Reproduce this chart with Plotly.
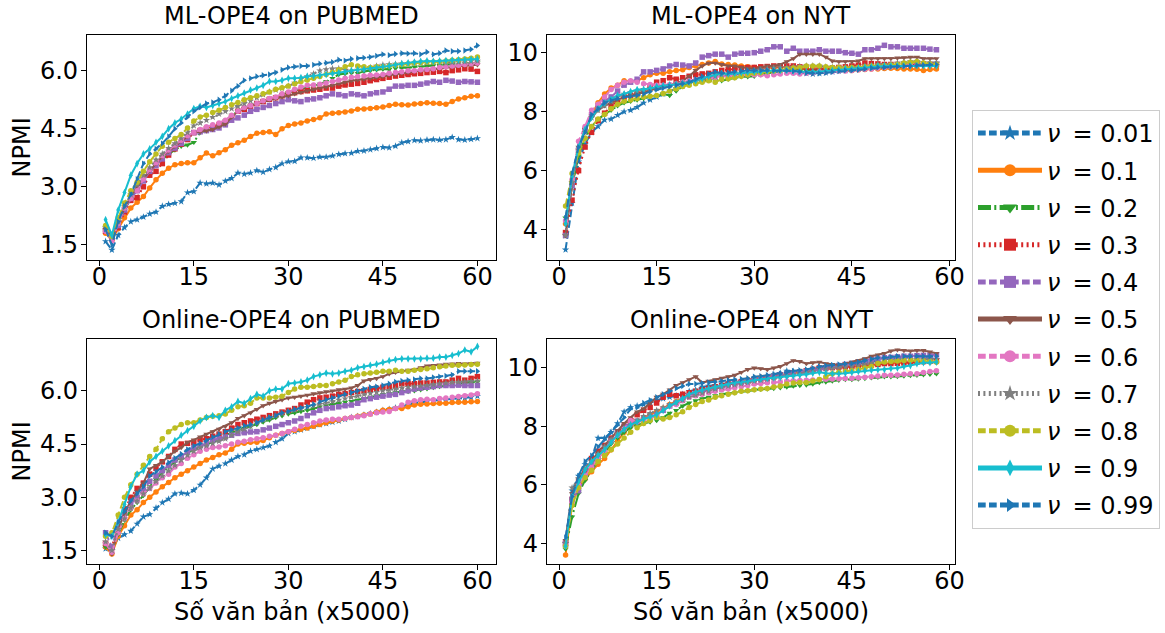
import plotly.graph_objects as go

# ---------------- data ----------------
nu_labels = ["0.01", "0.1", "0.2", "0.3", "0.4", "0.5", "0.6", "0.7", "0.8", "0.9", "0.99"]
x_pubmed = list(range(1, 61))
x_nyt = list(range(1, 59))
x_ticks = [0, 15, 30, 45, 60]
y_ticks_pubmed = [1.5, 3.0, 4.5, 6.0]
y_ticks_nyt = [4, 6, 8, 10]
panel_titles = ["ML-OPE4 on PUBMED", "ML-OPE4 on NYT", "Online-OPE4 on PUBMED", "Online-OPE4 on NYT"]

# ML-OPE4 on PUBMED
ml_pub_001 = [1.59, 1.37, 1.75, 1.95, 2.10, 2.15, 2.22, 2.30, 2.35, 2.50, 2.55, 2.58, 2.62, 2.85, 2.88, 3.10, 3.08, 3.10, 3.05, 3.15, 3.22, 3.36, 3.33, 3.36, 3.42, 3.38, 3.45, 3.50, 3.60, 3.65, 3.66, 3.75, 3.75, 3.74, 3.77, 3.77, 3.80, 3.84, 3.86, 3.87, 3.92, 3.93, 3.96, 3.99, 4.02, 4.01, 4.05, 4.14, 4.17, 4.20, 4.19, 4.21, 4.22, 4.21, 4.22, 4.28, 4.22, 4.21, 4.23, 4.25]
ml_pub_01 = [1.80, 1.62, 1.92, 2.20, 2.45, 2.60, 2.75, 2.97, 3.18, 3.35, 3.48, 3.57, 3.60, 3.62, 3.62, 3.75, 3.87, 3.80, 3.88, 3.96, 4.07, 4.14, 4.20, 4.30, 4.38, 4.40, 4.42, 4.35, 4.50, 4.58, 4.62, 4.65, 4.70, 4.74, 4.78, 4.88, 4.90, 4.91, 4.93, 4.96, 5.00, 5.01, 5.02, 5.04, 5.06, 5.10, 5.13, 5.12, 5.11, 5.14, 5.15, 5.17, 5.16, 5.15, 5.13, 5.20, 5.27, 5.30, 5.34, 5.35]
ml_pub_02 = [1.88, 1.65, 2.05, 2.40, 2.70, 2.95, 3.20, 3.40, 3.55, 3.72, 3.85, 3.95, 4.05, 4.08, 4.15, 4.40, 4.45, 4.50, 4.58, 4.70, 4.85, 4.95, 5.02, 5.08, 5.15, 5.22, 5.27, 5.32, 5.38, 5.44, 5.48, 5.52, 5.55, 5.60, 5.65, 5.72, 5.80, 5.90, 5.92, 5.94, 5.93, 5.98, 6.00, 6.02, 6.04, 6.03, 6.06, 6.08, 6.07, 6.10, 6.10, 6.12, 6.13, 6.14, 6.15, 6.15, 6.17, 6.18, 6.19, 6.20]
ml_pub_03 = [1.85, 1.68, 1.95, 2.35, 2.65, 2.72, 3.00, 3.30, 3.40, 3.60, 3.82, 3.98, 4.10, 4.22, 4.40, 4.45, 4.50, 4.55, 4.60, 4.65, 4.80, 4.95, 5.00, 5.08, 5.15, 5.20, 5.26, 5.30, 5.35, 5.40, 5.43, 5.46, 5.48, 5.50, 5.52, 5.55, 5.55, 5.60, 5.63, 5.65, 5.67, 5.70, 5.74, 5.77, 5.80, 5.83, 5.86, 5.88, 5.90, 5.92, 5.93, 5.95, 5.96, 5.98, 5.95, 6.00, 6.02, 6.05, 6.04, 5.98]
ml_pub_04 = [1.90, 1.70, 2.00, 2.40, 2.70, 2.90, 3.15, 3.40, 3.55, 3.72, 3.88, 4.00, 4.12, 4.25, 4.40, 4.42, 4.45, 4.48, 4.52, 4.60, 4.72, 4.78, 4.85, 4.95, 5.00, 5.05, 5.10, 5.15, 5.20, 5.25, 5.22, 5.20, 5.25, 5.27, 5.30, 5.35, 5.40, 5.38, 5.35, 5.40, 5.38, 5.35, 5.40, 5.43, 5.45, 5.52, 5.60, 5.60, 5.62, 5.62, 5.65, 5.68, 5.72, 5.70, 5.75, 5.73, 5.70, 5.72, 5.71, 5.70]
ml_pub_05 = [1.90, 1.70, 2.05, 2.45, 2.75, 3.00, 3.22, 3.42, 3.60, 3.78, 3.92, 4.05, 4.18, 4.30, 4.40, 4.42, 4.45, 4.48, 4.55, 4.62, 4.80, 4.95, 5.02, 5.10, 5.15, 5.20, 5.25, 5.28, 5.32, 5.35, 5.40, 5.44, 5.48, 5.52, 5.55, 5.58, 5.62, 5.66, 5.70, 5.74, 5.76, 5.78, 5.80, 5.83, 5.85, 5.88, 5.90, 5.93, 5.95, 5.98, 6.00, 6.02, 6.04, 6.05, 6.08, 6.10, 6.12, 6.13, 6.14, 6.15]
ml_pub_06 = [1.85, 1.60, 2.05, 2.45, 2.70, 2.90, 3.20, 3.45, 3.62, 3.80, 3.95, 4.08, 4.20, 4.32, 4.40, 4.48, 4.55, 4.60, 4.65, 4.72, 4.85, 4.95, 5.05, 5.10, 5.15, 5.22, 5.28, 5.32, 5.40, 5.45, 5.52, 5.58, 5.62, 5.63, 5.65, 5.68, 5.72, 5.76, 5.80, 5.83, 5.85, 5.86, 5.88, 5.89, 5.90, 5.93, 5.95, 5.97, 6.00, 6.00, 6.02, 6.03, 6.05, 6.08, 6.10, 6.12, 6.14, 6.16, 6.18, 6.20]
ml_pub_07 = [1.95, 1.75, 2.10, 2.50, 2.80, 3.05, 3.30, 3.50, 3.70, 3.85, 4.00, 4.12, 4.25, 4.40, 4.58, 4.65, 4.72, 4.80, 4.88, 4.95, 5.02, 5.08, 5.15, 5.22, 5.30, 5.38, 5.45, 5.50, 5.55, 5.60, 5.68, 5.78, 5.85, 5.92, 6.00, 6.03, 6.05, 6.05, 6.02, 6.00, 6.02, 6.05, 6.08, 6.12, 6.15, 6.16, 6.17, 6.18, 6.19, 6.20, 6.20, 6.21, 6.22, 6.20, 6.20, 6.21, 6.22, 6.23, 6.24, 6.25]
ml_pub_08 = [2.00, 1.72, 2.20, 2.58, 2.90, 3.12, 3.40, 3.65, 3.85, 4.05, 4.15, 4.25, 4.35, 4.52, 4.70, 4.80, 4.85, 4.92, 4.98, 5.05, 5.12, 5.18, 5.25, 5.30, 5.35, 5.40, 5.45, 5.52, 5.56, 5.60, 5.66, 5.72, 5.76, 5.80, 5.85, 5.90, 5.95, 6.02, 6.10, 6.15, 6.12, 6.10, 6.08, 6.10, 6.10, 6.12, 6.14, 6.16, 6.18, 6.20, 6.21, 6.22, 6.22, 6.23, 6.25, 6.27, 6.28, 6.30, 6.32, 6.35]
ml_pub_09 = [2.15, 1.75, 2.40, 2.85, 3.30, 3.60, 3.85, 3.98, 4.15, 4.30, 4.50, 4.65, 4.75, 4.88, 5.02, 5.08, 5.05, 5.10, 5.15, 5.20, 5.28, 5.35, 5.42, 5.50, 5.55, 5.62, 5.72, 5.72, 5.75, 5.80, 5.80, 5.82, 5.85, 5.86, 5.88, 5.90, 5.92, 5.95, 5.97, 6.00, 6.02, 6.03, 6.05, 6.07, 6.10, 6.12, 6.15, 6.18, 6.20, 6.22, 6.24, 6.25, 6.24, 6.25, 6.26, 6.27, 6.28, 6.28, 6.29, 6.30]
ml_pub_099 = [1.90, 1.50, 2.10, 2.50, 2.80, 3.20, 3.60, 3.85, 3.98, 4.12, 4.30, 4.50, 4.65, 4.80, 4.95, 5.05, 5.15, 5.18, 5.25, 5.35, 5.48, 5.60, 5.75, 5.80, 5.85, 5.88, 5.90, 5.95, 6.02, 6.08, 6.10, 6.12, 6.12, 6.15, 6.18, 6.20, 6.22, 6.28, 6.26, 6.30, 6.32, 6.33, 6.35, 6.38, 6.42, 6.40, 6.43, 6.45, 6.44, 6.45, 6.42, 6.48, 6.42, 6.45, 6.52, 6.50, 6.50, 6.52, 6.55, 6.65]

# ML-OPE4 on NYT
ml_nyt_001 = [3.32, 4.90, 6.30, 6.90, 7.30, 7.50, 7.72, 7.75, 7.88, 8.00, 8.05, 8.15, 8.30, 8.40, 8.50, 8.60, 8.70, 8.80, 8.88, 8.95, 9.05, 9.12, 9.15, 9.18, 9.20, 9.22, 9.25, 9.28, 9.30, 9.30, 9.32, 9.33, 9.35, 9.35, 9.35, 9.34, 9.33, 9.30, 9.28, 9.30, 9.32, 9.35, 9.38, 9.40, 9.42, 9.44, 9.46, 9.48, 9.50, 9.50, 9.52, 9.54, 9.55, 9.56, 9.58, 9.60, 9.62, 9.65]
ml_nyt_01 = [4.20, 5.50, 6.70, 7.40, 7.90, 8.30, 8.60, 8.80, 8.90, 9.05, 9.02, 9.05, 9.15, 9.25, 9.30, 9.30, 9.35, 9.40, 9.42, 9.50, 9.55, 9.60, 9.65, 9.70, 9.62, 9.60, 9.58, 9.55, 9.52, 9.50, 9.50, 9.48, 9.50, 9.52, 9.50, 9.48, 9.47, 9.45, 9.45, 9.45, 9.43, 9.42, 9.40, 9.40, 9.40, 9.42, 9.43, 9.45, 9.45, 9.46, 9.47, 9.46, 9.45, 9.45, 9.44, 9.40, 9.43, 9.45]
ml_nyt_02 = [4.40, 5.50, 6.50, 7.10, 7.50, 7.75, 7.90, 8.05, 8.20, 8.30, 8.35, 8.40, 8.45, 8.50, 8.55, 8.60, 8.55, 8.70, 8.85, 8.95, 9.00, 9.05, 9.08, 9.05, 9.05, 9.10, 9.15, 9.18, 9.18, 9.20, 9.25, 9.30, 9.35, 9.38, 9.40, 9.40, 9.42, 9.40, 9.40, 9.40, 9.42, 9.43, 9.44, 9.45, 9.45, 9.46, 9.48, 9.48, 9.50, 9.50, 9.52, 9.52, 9.54, 9.55, 9.55, 9.55, 9.56, 9.55]
ml_nyt_03 = [3.90, 5.00, 6.00, 6.80, 7.30, 7.70, 7.95, 8.20, 8.35, 8.50, 8.55, 8.60, 8.70, 8.85, 9.00, 9.05, 9.15, 9.10, 9.15, 9.20, 9.25, 9.28, 9.30, 9.35, 9.40, 9.42, 9.45, 9.48, 9.50, 9.50, 9.52, 9.53, 9.55, 9.55, 9.55, 9.55, 9.52, 9.50, 9.48, 9.45, 9.45, 9.48, 9.50, 9.52, 9.55, 9.58, 9.65, 9.63, 9.62, 9.60, 9.60, 9.60, 9.58, 9.60, 9.60, 9.62, 9.60, 9.60]
ml_nyt_04 = [3.80, 5.50, 6.70, 7.40, 7.90, 8.20, 8.35, 8.50, 8.70, 8.90, 9.00, 9.10, 9.35, 9.35, 9.40, 9.45, 9.55, 9.60, 9.58, 9.55, 9.65, 9.85, 9.90, 9.95, 9.95, 9.85, 9.95, 9.98, 9.98, 10.00, 10.05, 10.10, 10.20, 10.20, 10.05, 10.15, 10.05, 10.05, 10.05, 10.10, 10.05, 10.05, 10.05, 10.00, 9.98, 9.95, 10.10, 10.10, 10.15, 10.25, 10.20, 10.20, 10.15, 10.15, 10.15, 10.15, 10.12, 10.10]
ml_nyt_05 = [3.80, 5.60, 6.80, 7.40, 7.80, 8.05, 8.20, 8.30, 8.40, 8.50, 8.55, 8.60, 8.65, 8.72, 8.80, 8.85, 8.90, 8.95, 9.05, 9.20, 9.40, 9.55, 9.65, 9.65, 9.60, 9.55, 9.55, 9.50, 9.48, 9.45, 9.50, 9.55, 9.55, 9.60, 9.70, 9.80, 9.95, 9.95, 9.95, 9.95, 9.85, 9.72, 9.70, 9.70, 9.70, 9.72, 9.80, 9.80, 9.80, 9.80, 9.80, 9.82, 9.83, 9.85, 9.85, 9.80, 9.80, 9.80]
ml_nyt_06 = [4.30, 5.70, 7.00, 7.50, 8.05, 8.25, 8.50, 8.75, 8.90, 9.00, 9.05, 9.00, 8.95, 8.92, 8.90, 8.90, 8.92, 8.95, 9.00, 9.05, 9.08, 9.10, 9.12, 9.15, 9.20, 9.20, 9.22, 9.22, 9.25, 9.25, 9.25, 9.22, 9.25, 9.28, 9.30, 9.30, 9.28, 9.30, 9.32, 9.35, 9.35, 9.36, 9.38, 9.38, 9.40, 9.42, 9.44, 9.45, 9.48, 9.50, 9.52, 9.54, 9.56, 9.58, 9.58, 9.60, 9.60, 9.60]
ml_nyt_07 = [3.80, 5.60, 6.70, 7.30, 7.80, 8.05, 8.20, 8.35, 8.50, 8.60, 8.65, 8.70, 8.75, 8.78, 8.80, 8.85, 8.90, 8.95, 8.98, 9.00, 9.05, 9.10, 9.15, 9.20, 9.25, 9.28, 9.30, 9.35, 9.38, 9.40, 9.42, 9.45, 9.48, 9.50, 9.50, 9.52, 9.54, 9.55, 9.55, 9.55, 9.52, 9.50, 9.50, 9.50, 9.50, 9.52, 9.55, 9.58, 9.60, 9.60, 9.62, 9.65, 9.68, 9.70, 9.70, 9.68, 9.66, 9.65]
ml_nyt_08 = [4.80, 5.90, 6.60, 7.10, 7.50, 7.75, 7.90, 8.10, 8.25, 8.35, 8.40, 8.45, 8.50, 8.52, 8.55, 8.62, 8.70, 8.78, 8.85, 8.90, 8.95, 9.00, 9.05, 9.00, 9.10, 9.12, 9.15, 9.20, 9.25, 9.30, 9.32, 9.35, 9.38, 9.40, 9.45, 9.48, 9.50, 9.55, 9.55, 9.55, 9.52, 9.50, 9.50, 9.48, 9.50, 9.50, 9.52, 9.55, 9.55, 9.56, 9.58, 9.60, 9.65, 9.68, 9.70, 9.65, 9.62, 9.60]
ml_nyt_09 = [4.20, 5.80, 6.80, 7.40, 7.80, 8.10, 8.30, 8.42, 8.55, 8.60, 8.68, 8.75, 8.75, 8.80, 8.85, 8.88, 8.90, 8.92, 8.95, 9.00, 9.05, 9.12, 9.20, 9.25, 9.30, 9.28, 9.30, 9.32, 9.34, 9.35, 9.36, 9.38, 9.40, 9.40, 9.40, 9.38, 9.36, 9.35, 9.35, 9.35, 9.38, 9.40, 9.42, 9.45, 9.45, 9.48, 9.50, 9.52, 9.55, 9.55, 9.55, 9.56, 9.55, 9.55, 9.56, 9.55, 9.55, 9.55]
ml_nyt_099 = [4.40, 5.90, 6.80, 7.30, 7.90, 8.10, 8.30, 8.38, 8.45, 8.50, 8.52, 8.55, 8.60, 8.68, 8.75, 8.80, 8.85, 8.90, 8.95, 9.00, 9.10, 9.20, 9.28, 9.35, 9.30, 9.32, 9.35, 9.38, 9.40, 9.40, 9.40, 9.40, 9.40, 9.40, 9.40, 9.38, 9.35, 9.32, 9.30, 9.30, 9.32, 9.35, 9.38, 9.40, 9.40, 9.42, 9.45, 9.48, 9.50, 9.50, 9.52, 9.53, 9.55, 9.55, 9.57, 9.58, 9.60, 9.60]

# Online-OPE4 on PUBMED
on_pub_001 = [1.55, 1.50, 1.85, 1.95, 2.05, 2.25, 2.45, 2.52, 2.70, 2.85, 2.95, 3.10, 3.12, 3.10, 3.20, 3.35, 3.55, 3.80, 3.88, 3.95, 4.05, 4.15, 4.20, 4.30, 4.35, 4.40, 4.45, 4.55, 4.65, 4.80, 4.85, 4.90, 4.95, 5.00, 5.05, 5.08, 5.12, 5.15, 5.20, 5.25, 5.28, 5.32, 5.36, 5.40, 5.45, 5.48, 5.52, 5.55, 5.60, 5.65, 5.68, 5.70, 5.72, 5.74, 5.75, 5.76, 5.78, 5.80, 5.82, 5.85]
on_pub_01 = [1.60, 1.40, 1.90, 2.20, 2.50, 2.65, 2.85, 3.00, 3.15, 3.30, 3.42, 3.55, 3.65, 3.75, 3.85, 3.95, 4.05, 4.12, 4.20, 4.25, 4.35, 4.50, 4.52, 4.55, 4.55, 4.60, 4.68, 4.75, 4.80, 4.85, 4.88, 4.92, 4.95, 5.00, 5.05, 5.10, 5.15, 5.18, 5.22, 5.25, 5.28, 5.32, 5.35, 5.40, 5.45, 5.47, 5.50, 5.50, 5.55, 5.60, 5.62, 5.63, 5.64, 5.65, 5.65, 5.67, 5.68, 5.68, 5.69, 5.70]
on_pub_02 = [1.60, 1.55, 1.95, 2.35, 2.65, 2.85, 3.05, 3.30, 3.50, 3.70, 3.85, 4.00, 4.15, 4.25, 4.35, 4.42, 4.48, 4.55, 4.62, 4.75, 4.82, 4.88, 4.95, 5.00, 5.05, 5.12, 5.18, 5.25, 5.30, 5.35, 5.38, 5.42, 5.45, 5.50, 5.55, 5.58, 5.62, 5.65, 5.68, 5.70, 5.74, 5.78, 5.82, 5.86, 5.90, 5.92, 5.95, 5.97, 5.98, 6.00, 6.03, 6.06, 6.09, 6.12, 6.15, 6.18, 6.20, 6.22, 6.24, 6.25]
on_pub_03 = [1.70, 1.60, 2.20, 2.65, 3.00, 3.25, 3.40, 3.65, 3.82, 4.00, 4.15, 4.35, 4.50, 4.52, 4.55, 4.62, 4.65, 4.72, 4.78, 4.85, 4.95, 5.05, 5.10, 5.15, 5.20, 5.25, 5.30, 5.35, 5.40, 5.45, 5.50, 5.60, 5.68, 5.75, 5.80, 5.82, 5.85, 5.90, 5.92, 5.95, 5.98, 6.00, 6.04, 6.07, 6.10, 6.12, 6.15, 6.20, 6.20, 6.20, 6.22, 6.22, 6.24, 6.25, 6.25, 6.30, 6.35, 6.30, 6.35, 6.40]
on_pub_04 = [2.00, 1.60, 2.20, 2.55, 2.80, 3.00, 3.20, 3.45, 3.60, 3.75, 3.90, 4.05, 4.15, 4.28, 4.40, 4.45, 4.50, 4.60, 4.65, 4.70, 4.75, 4.80, 4.82, 4.84, 4.85, 4.90, 4.95, 5.00, 5.05, 5.10, 5.15, 5.22, 5.30, 5.38, 5.45, 5.50, 5.52, 5.55, 5.58, 5.60, 5.65, 5.75, 5.78, 5.82, 5.85, 5.88, 5.90, 5.95, 6.00, 6.05, 6.08, 6.10, 6.12, 6.15, 6.15, 6.15, 6.16, 6.15, 6.15, 6.15]
on_pub_05 = [1.70, 1.40, 2.10, 2.55, 2.90, 3.15, 3.40, 3.80, 3.90, 4.00, 4.15, 4.30, 4.40, 4.55, 4.62, 4.70, 4.78, 4.85, 4.92, 5.00, 5.10, 5.22, 5.30, 5.38, 5.48, 5.58, 5.65, 5.70, 5.75, 5.80, 5.82, 5.85, 5.88, 5.92, 5.95, 5.98, 6.00, 6.03, 6.05, 6.08, 6.15, 6.28, 6.32, 6.35, 6.40, 6.48, 6.52, 6.55, 6.58, 6.60, 6.65, 6.70, 6.72, 6.73, 6.75, 6.76, 6.77, 6.76, 6.77, 6.78]
on_pub_06 = [1.70, 1.45, 2.00, 2.40, 2.70, 2.90, 3.10, 3.25, 3.40, 3.55, 3.65, 3.85, 3.95, 4.10, 4.20, 4.30, 4.35, 4.40, 4.42, 4.45, 4.50, 4.55, 4.58, 4.62, 4.65, 4.68, 4.72, 4.75, 4.80, 4.85, 4.92, 5.00, 5.05, 5.10, 5.15, 5.18, 5.20, 5.20, 5.22, 5.25, 5.27, 5.30, 5.35, 5.38, 5.40, 5.42, 5.50, 5.60, 5.68, 5.72, 5.75, 5.76, 5.75, 5.78, 5.80, 5.82, 5.84, 5.86, 5.88, 5.92]
on_pub_07 = [1.75, 1.50, 2.10, 2.40, 2.70, 2.90, 3.10, 3.25, 3.45, 3.60, 3.75, 3.90, 4.05, 4.18, 4.30, 4.40, 4.45, 4.52, 4.58, 4.65, 4.75, 4.85, 4.92, 5.00, 5.10, 5.18, 5.24, 5.30, 5.36, 5.42, 5.46, 5.50, 5.54, 5.58, 5.62, 5.66, 5.70, 5.74, 5.78, 5.82, 5.86, 5.90, 5.93, 5.96, 6.00, 6.02, 6.05, 6.08, 6.10, 6.12, 6.14, 6.16, 6.18, 6.20, 6.22, 6.24, 6.25, 6.26, 6.27, 6.28]
on_pub_08 = [1.90, 2.00, 2.50, 3.00, 3.35, 3.65, 3.90, 4.15, 4.35, 4.65, 4.85, 4.95, 5.05, 5.10, 5.10, 5.18, 5.25, 5.28, 5.30, 5.35, 5.45, 5.55, 5.58, 5.65, 5.80, 5.80, 5.80, 5.82, 5.85, 5.95, 6.05, 6.10, 6.10, 6.12, 6.15, 6.15, 6.20, 6.25, 6.30, 6.40, 6.45, 6.48, 6.50, 6.52, 6.55, 6.55, 6.58, 6.55, 6.55, 6.58, 6.60, 6.62, 6.65, 6.68, 6.70, 6.72, 6.72, 6.73, 6.74, 6.75]
on_pub_09 = [1.95, 1.90, 2.30, 2.80, 3.30, 3.65, 3.75, 4.00, 4.15, 4.30, 4.45, 4.60, 4.75, 4.88, 5.00, 5.15, 5.25, 5.30, 5.25, 5.45, 5.55, 5.70, 5.65, 5.78, 5.90, 5.85, 6.00, 6.05, 6.05, 6.20, 6.22, 6.25, 6.30, 6.40, 6.45, 6.50, 6.48, 6.50, 6.55, 6.58, 6.65, 6.68, 6.72, 6.75, 6.80, 6.85, 6.88, 6.90, 6.90, 6.90, 6.90, 6.92, 6.92, 6.95, 6.95, 7.00, 7.05, 7.15, 7.10, 7.25]
on_pub_099 = [2.00, 1.90, 2.30, 2.60, 2.90, 3.10, 3.30, 3.60, 3.72, 3.85, 3.98, 4.10, 4.22, 4.35, 4.45, 4.52, 4.60, 4.70, 4.78, 4.85, 4.90, 4.95, 5.02, 5.05, 5.10, 5.18, 5.25, 5.30, 5.38, 5.42, 5.48, 5.52, 5.55, 5.62, 5.70, 5.75, 5.80, 5.85, 5.90, 5.95, 6.00, 6.05, 6.10, 6.12, 6.15, 6.20, 6.25, 6.28, 6.30, 6.32, 6.35, 6.35, 6.38, 6.40, 6.42, 6.45, 6.55, 6.55, 6.55, 6.55]

# Online-OPE4 on NYT
on_nyt_001 = [4.00, 5.80, 6.30, 6.70, 6.90, 7.60, 7.60, 7.80, 8.10, 8.50, 8.65, 8.70, 8.75, 8.80, 8.90, 8.95, 9.00, 9.05, 9.10, 9.20, 9.25, 9.35, 9.38, 9.40, 9.45, 9.48, 9.50, 9.55, 9.60, 9.65, 9.68, 9.72, 9.78, 9.82, 9.90, 9.88, 9.85, 9.85, 9.92, 10.00, 10.02, 10.05, 10.08, 10.08, 10.10, 10.15, 10.18, 10.20, 10.25, 10.30, 10.32, 10.35, 10.38, 10.40, 10.40, 10.38, 10.35, 10.30]
on_nyt_01 = [3.60, 5.30, 5.90, 6.20, 6.45, 6.70, 6.90, 7.20, 7.50, 7.80, 8.00, 8.15, 8.30, 8.40, 8.50, 8.62, 8.75, 8.85, 8.98, 9.10, 9.15, 9.22, 9.28, 9.35, 9.40, 9.45, 9.50, 9.55, 9.60, 9.65, 9.68, 9.70, 9.72, 9.75, 9.80, 9.82, 9.85, 9.88, 9.90, 9.95, 9.97, 10.00, 10.02, 10.03, 10.05, 10.07, 10.08, 10.10, 10.12, 10.15, 10.16, 10.17, 10.18, 10.18, 10.20, 10.20, 10.20, 10.20]
on_nyt_02 = [3.80, 4.90, 5.70, 6.15, 6.50, 6.80, 7.10, 7.40, 7.60, 7.80, 7.95, 8.05, 8.10, 8.15, 8.20, 8.30, 8.45, 8.55, 8.70, 8.80, 8.88, 8.95, 9.00, 9.05, 9.10, 9.12, 9.15, 9.20, 9.22, 9.25, 9.27, 9.28, 9.30, 9.32, 9.35, 9.38, 9.40, 9.42, 9.45, 9.50, 9.52, 9.55, 9.58, 9.60, 9.60, 9.62, 9.64, 9.66, 9.68, 9.70, 9.70, 9.71, 9.72, 9.74, 9.75, 9.77, 9.78, 9.80]
on_nyt_03 = [4.00, 5.50, 6.10, 6.50, 6.90, 7.15, 7.35, 7.60, 7.80, 8.00, 8.20, 8.40, 8.55, 8.65, 8.80, 9.00, 9.10, 9.05, 9.10, 9.15, 9.20, 9.25, 9.30, 9.35, 9.40, 9.45, 9.48, 9.52, 9.55, 9.60, 9.62, 9.65, 9.70, 9.75, 9.80, 9.83, 9.86, 9.90, 9.95, 10.00, 10.01, 10.02, 10.03, 10.04, 10.05, 10.06, 10.08, 10.10, 10.12, 10.15, 10.15, 10.16, 10.17, 10.18, 10.20, 10.22, 10.23, 10.25]
on_nyt_04 = [4.00, 5.50, 5.80, 6.30, 6.70, 7.00, 7.30, 7.55, 7.80, 8.00, 8.10, 8.18, 8.25, 8.32, 8.40, 8.55, 8.70, 8.80, 8.92, 9.05, 9.12, 9.18, 9.24, 9.30, 9.35, 9.40, 9.45, 9.50, 9.55, 9.60, 9.63, 9.66, 9.70, 9.75, 9.80, 9.82, 9.85, 9.88, 9.92, 9.95, 10.00, 10.05, 10.08, 10.12, 10.15, 10.20, 10.25, 10.30, 10.32, 10.35, 10.36, 10.38, 10.40, 10.40, 10.42, 10.43, 10.44, 10.45]
on_nyt_05 = [4.10, 5.70, 6.20, 6.55, 6.80, 7.10, 7.35, 7.60, 7.85, 8.10, 8.30, 8.50, 8.60, 8.80, 9.00, 9.10, 9.25, 9.40, 9.50, 9.60, 9.70, 9.50, 9.55, 9.60, 9.65, 9.70, 9.75, 9.85, 9.95, 10.00, 9.98, 9.95, 10.00, 10.05, 10.15, 10.25, 10.22, 10.15, 10.18, 10.20, 10.15, 10.12, 10.10, 10.15, 10.20, 10.25, 10.32, 10.40, 10.45, 10.50, 10.58, 10.62, 10.60, 10.58, 10.60, 10.60, 10.55, 10.50]
on_nyt_06 = [3.90, 5.40, 6.00, 6.30, 6.60, 6.90, 7.15, 7.50, 7.70, 7.90, 8.20, 8.15, 8.20, 8.28, 8.35, 8.60, 8.70, 8.75, 8.88, 9.00, 9.05, 9.10, 9.15, 9.20, 9.25, 9.28, 9.32, 9.36, 9.40, 9.45, 9.47, 9.49, 9.50, 9.52, 9.55, 9.56, 9.57, 9.58, 9.59, 9.60, 9.61, 9.62, 9.63, 9.64, 9.65, 9.66, 9.68, 9.70, 9.72, 9.75, 9.75, 9.76, 9.78, 9.80, 9.80, 9.84, 9.88, 9.90]
on_nyt_07 = [4.00, 5.90, 6.20, 6.55, 6.80, 7.05, 7.30, 7.55, 7.75, 7.90, 8.05, 8.20, 8.35, 8.45, 8.55, 8.65, 8.75, 8.82, 8.90, 9.00, 9.07, 9.14, 9.20, 9.28, 9.35, 9.38, 9.42, 9.46, 9.50, 9.55, 9.58, 9.62, 9.66, 9.70, 9.75, 9.78, 9.82, 9.86, 9.90, 9.95, 9.97, 10.00, 10.02, 10.03, 10.05, 10.08, 10.12, 10.15, 10.20, 10.25, 10.26, 10.27, 10.28, 10.29, 10.30, 10.30, 10.30, 10.30]
on_nyt_08 = [3.90, 5.30, 5.90, 6.25, 6.50, 6.80, 7.00, 7.20, 7.40, 7.60, 7.80, 7.95, 8.10, 8.20, 8.30, 8.25, 8.30, 8.40, 8.50, 8.65, 8.75, 8.85, 8.90, 9.00, 9.05, 9.10, 9.15, 9.20, 9.22, 9.25, 9.28, 9.30, 9.35, 9.38, 9.45, 9.48, 9.50, 9.50, 9.55, 9.60, 9.70, 9.80, 9.85, 9.88, 9.90, 9.95, 10.00, 10.05, 10.15, 10.20, 10.22, 10.24, 10.25, 10.26, 10.25, 10.24, 10.22, 10.20]
on_nyt_09 = [3.90, 5.60, 6.10, 6.50, 6.80, 7.00, 7.20, 7.45, 7.70, 7.90, 8.05, 8.15, 8.25, 8.32, 8.40, 8.55, 8.70, 8.82, 8.95, 9.10, 9.18, 9.25, 9.30, 9.35, 9.40, 9.45, 9.50, 9.52, 9.55, 9.60, 9.62, 9.64, 9.66, 9.68, 9.70, 9.72, 9.75, 9.78, 9.82, 9.85, 9.82, 9.80, 9.80, 9.82, 9.85, 9.88, 9.90, 9.92, 9.94, 9.95, 9.98, 10.00, 10.05, 10.08, 10.15, 10.18, 10.18, 10.20]
on_nyt_099 = [4.20, 5.60, 6.30, 6.80, 7.00, 7.30, 7.55, 7.80, 8.05, 8.30, 8.60, 8.65, 8.80, 8.90, 9.00, 9.10, 9.20, 9.30, 9.38, 9.45, 9.45, 9.48, 9.50, 9.52, 9.55, 9.58, 9.60, 9.62, 9.65, 9.70, 9.72, 9.75, 9.78, 9.80, 9.85, 9.90, 9.92, 9.95, 10.00, 10.05, 10.08, 10.10, 10.12, 10.14, 10.15, 10.20, 10.25, 10.30, 10.35, 10.35, 10.38, 10.40, 10.40, 10.40, 10.40, 10.40, 10.40, 10.40]

panels = [
    (x_pubmed, [ml_pub_001, ml_pub_01, ml_pub_02, ml_pub_03, ml_pub_04, ml_pub_05, ml_pub_06, ml_pub_07, ml_pub_08, ml_pub_09, ml_pub_099]),
    (x_nyt, [ml_nyt_001, ml_nyt_01, ml_nyt_02, ml_nyt_03, ml_nyt_04, ml_nyt_05, ml_nyt_06, ml_nyt_07, ml_nyt_08, ml_nyt_09, ml_nyt_099]),
    (x_pubmed, [on_pub_001, on_pub_01, on_pub_02, on_pub_03, on_pub_04, on_pub_05, on_pub_06, on_pub_07, on_pub_08, on_pub_09, on_pub_099]),
    (x_nyt, [on_nyt_001, on_nyt_01, on_nyt_02, on_nyt_03, on_nyt_04, on_nyt_05, on_nyt_06, on_nyt_07, on_nyt_08, on_nyt_09, on_nyt_099]),
]

# ---------------- styles ----------------
colors = ["#1f77b4", "#ff7f0e", "#2ca02c", "#d62728", "#9467bd", "#8c564b",
          "#e377c2", "#7f7f7f", "#bcbd22", "#17becf", "#1f77b4"]
dashes = ["7.7px,3.3px", "solid", "13px,3.3px,2px,3.3px", "2px,3.4px", "7.7px,3.3px", "solid",
          "7.7px,3.3px", "2px,3.4px", "7.7px,3.3px", "solid", "7.7px,3.3px"]
symbols = ["star", "circle", "triangle-down", "square", "square", "triangle-down",
           "circle", "star", "circle", "diamond-tall", "triangle-right"]

W, H = 1165, 633
FONT = "DejaVu Sans"
FS = 24

def fx(px):
    return px / W

def fy(py):
    return 1 - py / H

# panel boxes in pixels: (left, right, top, bottom)
boxes = [(87, 496, 35, 260), (547, 955, 35, 260), (87, 496, 339, 564), (547, 955, 339, 564)]
yranges = [[1.11, 6.92], [2.97, 10.6], [1.12, 7.46], [3.29, 10.99]]
yticks = [y_ticks_pubmed, y_ticks_nyt, y_ticks_pubmed, y_ticks_nyt]
ytickfmt = [".1f", "d", ".1f", "d"]
xranges = [[-1.95, 62.95], [-1.85, 60.85], [-1.95, 62.95], [-1.85, 60.85]]

fig = go.Figure()

for p, (xs, series) in enumerate(panels):
    ax = "" if p == 0 else str(p + 1)
    for i, ys in enumerate(series):
        fig.add_trace(go.Scatter(
            x=xs, y=ys, mode="lines+markers",
            name="<i>ν</i>\u2002= " + nu_labels[i],
            legendgroup="g" + str(i),
            showlegend=(p == 0),
            line=dict(color=colors[i], width=2, dash=dashes[i]),
            marker=dict(symbol=symbols[i], size=5.5, color=colors[i], line=dict(width=0)),
            xaxis="x" + ax, yaxis="y" + ax,
        ))

layout_axes = {}
for p in range(4):
    l, r, t, b = boxes[p]
    ax = "" if p == 0 else str(p + 1)
    common = dict(showline=True, linecolor="black", linewidth=1.1, mirror=True,
                  ticks="outside", ticklen=5, tickwidth=1.1, tickcolor="black",
                  showgrid=False, zeroline=False, automargin=False,
                  tickfont=dict(family=FONT, size=FS, color="black"))
    layout_axes["xaxis" + ax] = dict(common, domain=[fx(l), fx(r)], range=xranges[p],
                                     tickvals=x_ticks, anchor="y" + ax, ticklabelstandoff=-10)
    layout_axes["yaxis" + ax] = dict(common, domain=[fy(b), fy(t)], range=yranges[p],
                                     tickvals=yticks[p], tickformat=ytickfmt[p], anchor="x" + ax,
                                     ticklabelstandoff=-2)

annotations = []
title_y = [16, 16, 320, 320]
for p in range(4):
    l, r, t, b = boxes[p]
    annotations.append(dict(text=panel_titles[p], x=fx((l + r) / 2), y=fy(title_y[p]),
                            xref="paper", yref="paper", showarrow=False,
                            xanchor="center", yanchor="middle",
                            font=dict(family=FONT, size=FS, color="black")))
for p in (2, 3):
    l, r, t, b = boxes[p]
    annotations.append(dict(text="Số văn bản (x5000)", x=fx((l + r) / 2), y=fy(612),
                            xref="paper", yref="paper", showarrow=False,
                            xanchor="center", yanchor="middle",
                            font=dict(family=FONT, size=FS, color="black")))
for p in (0, 2):
    l, r, t, b = boxes[p]
    annotations.append(dict(text="NPMI", x=fx(21), y=fy((t + b) / 2), textangle=-90,
                            xref="paper", yref="paper", showarrow=False,
                            xanchor="center", yanchor="middle",
                            font=dict(family=FONT, size=FS, color="black")))

fig.update_layout(
    width=W, height=H,
    margin=dict(l=0, r=0, t=0, b=0, autoexpand=False),
    paper_bgcolor="white", plot_bgcolor="white",
    font=dict(family=FONT, size=FS, color="black"),
    annotations=annotations,
    legend=dict(x=fx(972), y=fy(110), xanchor="left", yanchor="top",
                bordercolor="#cccccc", borderwidth=1, bgcolor="white",
                font=dict(family=FONT, size=FS, color="black"),
                itemsizing="constant", tracegroupgap=3, itemwidth=64),
    showlegend=True,
    **layout_axes,
)

fig.write_html("out.html", config={"displayModeBar": False},
               post_script="document.body.style.margin='0px';")
